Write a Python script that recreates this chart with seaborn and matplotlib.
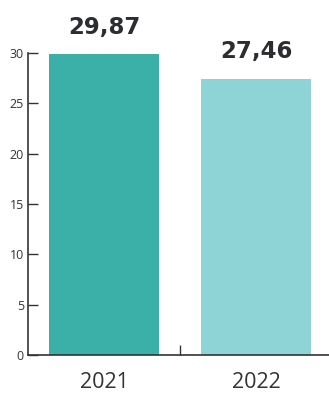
import pandas as pd
import matplotlib
matplotlib.use('Agg')
import matplotlib.pyplot as plt
import seaborn as sns

# Data
years = ['2021', '2022']
values = [29.87, 27.46]
colors = ['#3bb0a9', '#8ed4d6']
yticks = [0, 5, 10, 15, 20, 25, 30]

df = pd.DataFrame({'year': years, 'value': values})

sns.set_style('white')
plt.rcParams['font.family'] = ['Open Sans', 'DejaVu Sans']

fig = plt.figure(figsize=(3.29, 3.94), dpi=100)
ax = fig.add_axes([28 / 329, 39 / 394, 304 / 329, 302 / 394])

sns.barplot(x='year', y='value', data=df, hue='year', palette=colors,
            legend=False, width=0.72, saturation=1, linewidth=0, ax=ax)

ax.set_xlim(-0.5, 1.5)
ax.set_ylim(0, 30)
ax.set_yticks(yticks)
ax.set_xlabel('')
ax.set_ylabel('')

# value labels
for i, v in enumerate(values):
    ax.text(i, v + 2.0, f'{v:.2f}'.replace('.', ','), ha='center', va='baseline',
            fontsize=16.5, fontweight='bold', color='#2b2d30',
            family='DejaVu Sans')

# x axis: tick at the category boundary, labels centered under bars
ax.set_xticks([0.5])
ax.set_xticklabels([''])
ax.set_xticks([0, 1], minor=True)
ax.set_xticklabels(years, minor=True, fontsize=15.5, color='#333333',
                   family='Open Sans')
ax.tick_params(axis='x', which='major', direction='in', length=7, width=1,
               color='#333333', bottom=True)
ax.tick_params(axis='x', which='minor', length=0, pad=12, bottom=True)
ax.tick_params(axis='y', direction='in', length=7, width=1, color='#333333',
               labelsize=9, labelcolor='#333333', pad=3, left=True)

for s in ['top', 'right']:
    ax.spines[s].set_visible(False)
for s in ['left', 'bottom']:
    ax.spines[s].set_color('#333333')
    ax.spines[s].set_linewidth(1.2)

fig.savefig('out.png', dpi=100)
